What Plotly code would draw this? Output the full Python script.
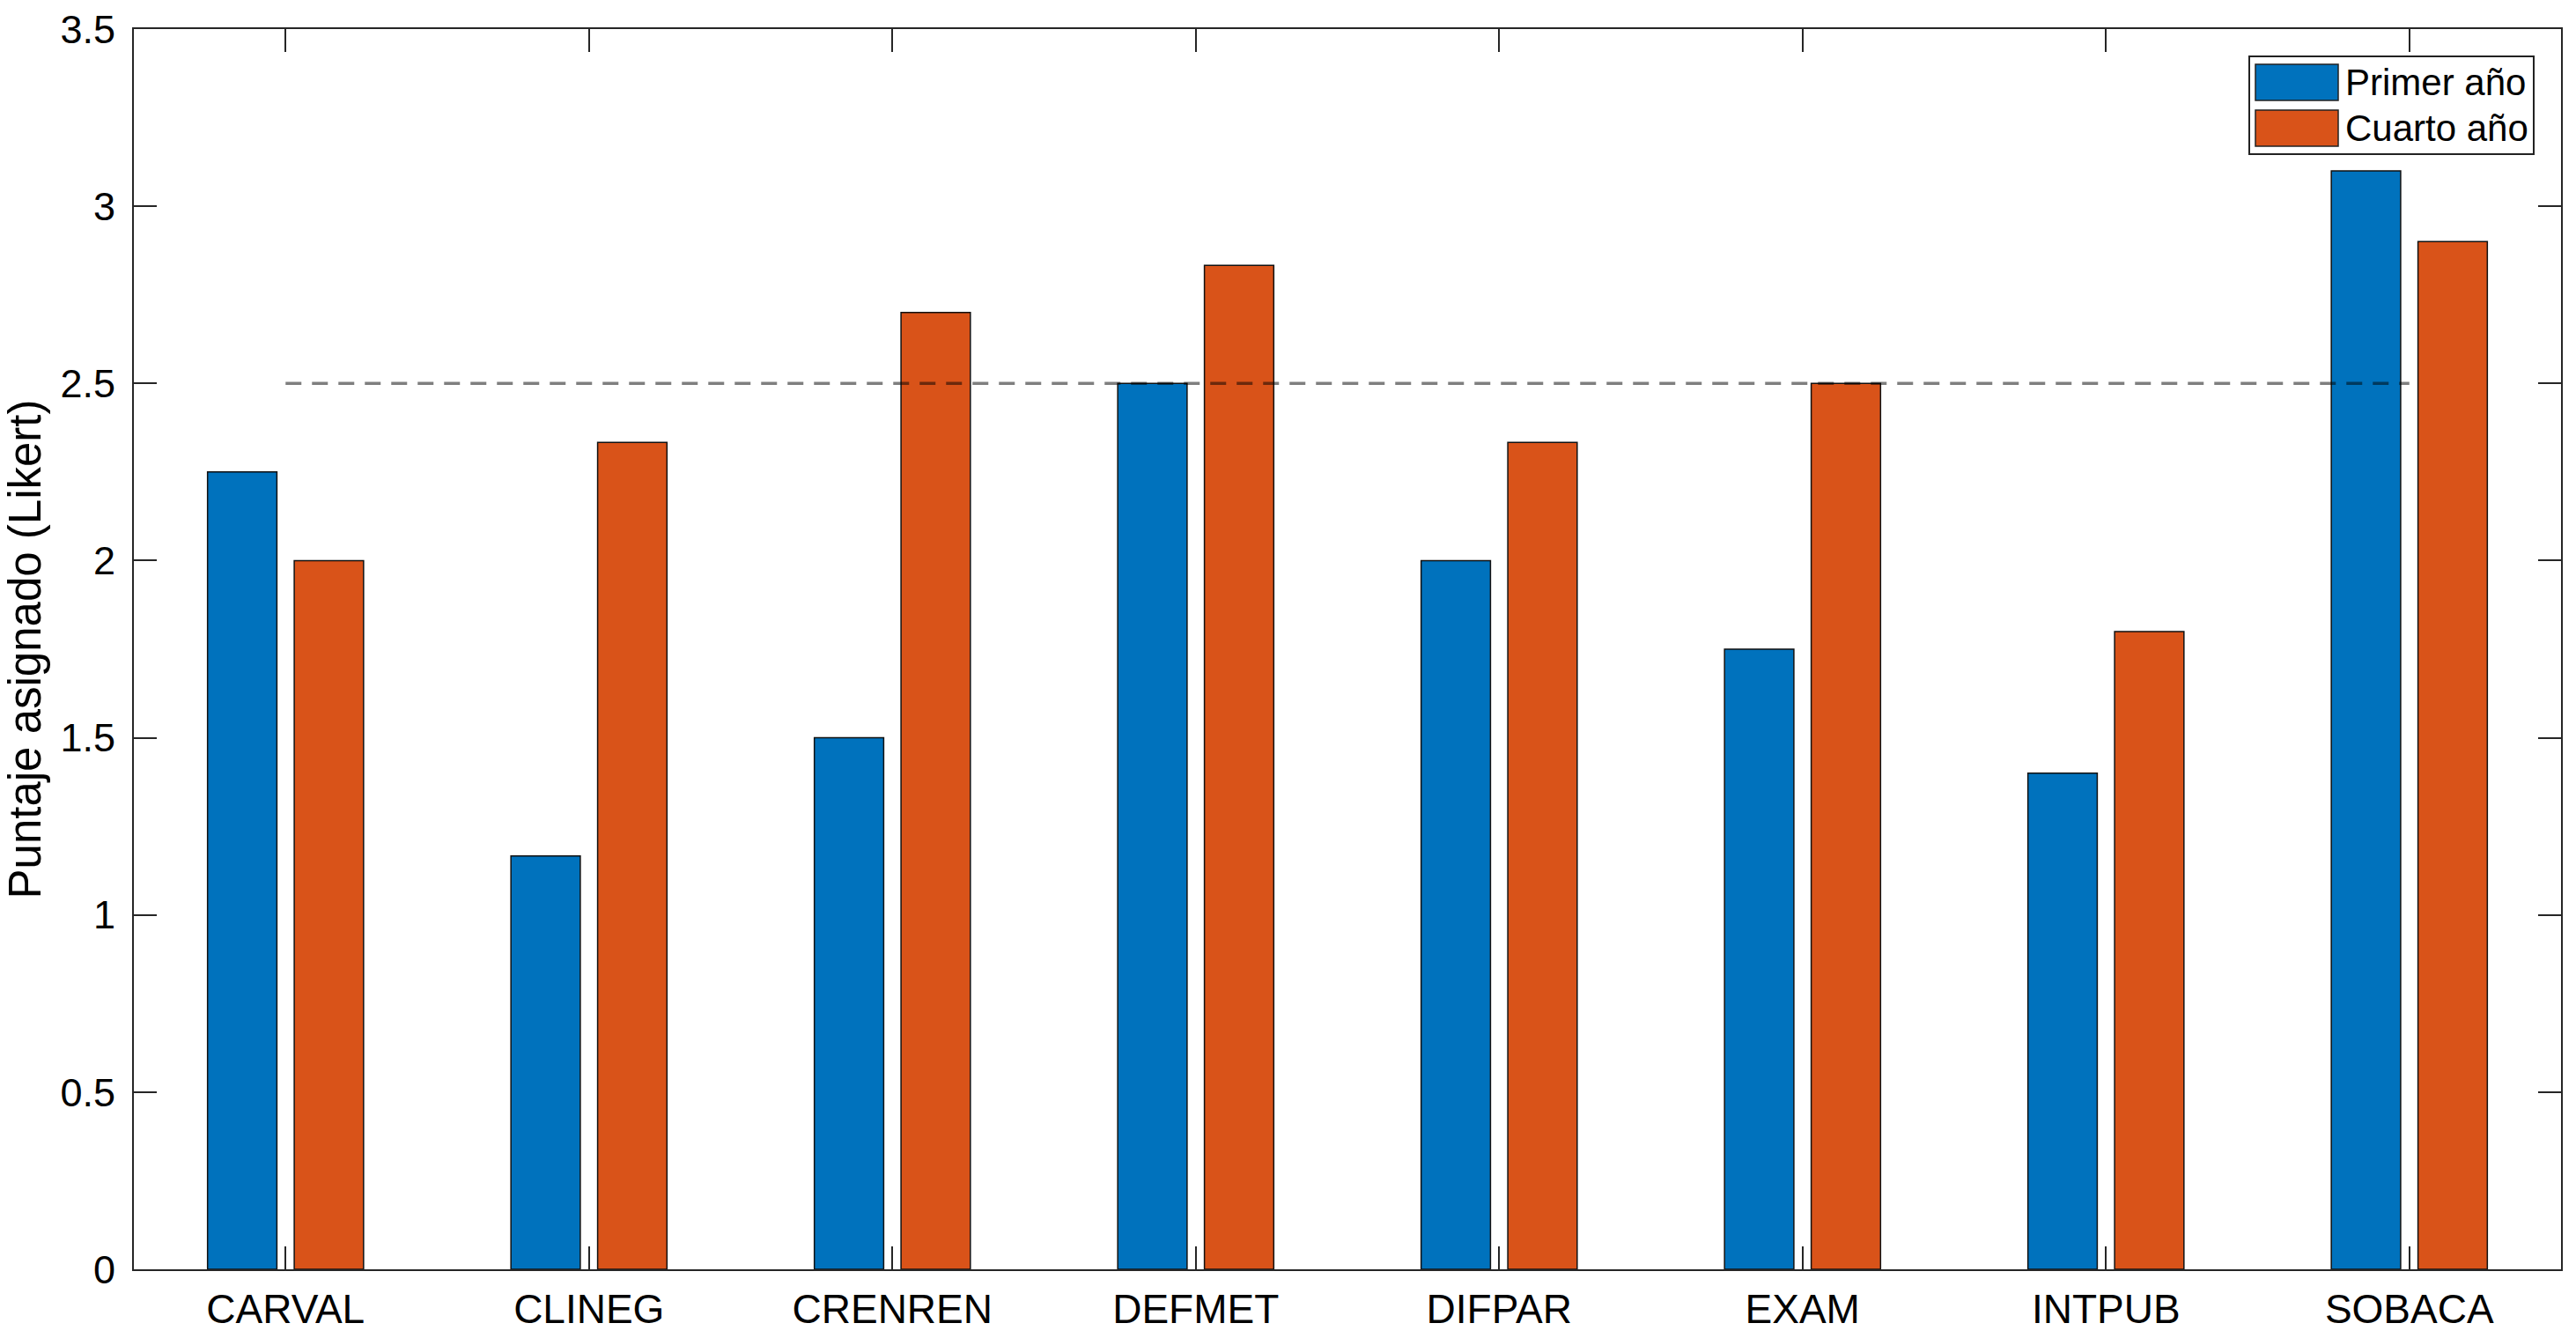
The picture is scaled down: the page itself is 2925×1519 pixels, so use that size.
import plotly.graph_objects as go

# ---- data ----
categories = ["CARVAL", "CLINEG", "CRENREN", "DEFMET", "DIFPAR", "EXAM", "INTPUB", "SOBACA"]
primer_anio = [2.25, 1.1667, 1.5, 2.5, 2.0, 1.75, 1.4, 3.1]
cuarto_anio = [2.0, 2.3333, 2.7, 2.8333, 2.3333, 2.5, 1.8, 2.9]
series_names = ["Primer año", "Cuarto año"]
threshold = 2.5
y_ticks = [0, 0.5, 1, 1.5, 2, 2.5, 3, 3.5]
y_tick_text = ["0", "0.5", "1", "1.5", "2", "2.5", "3", "3.5"]

# ---- style ----
W, H = 2925, 1519
# plot area in page pixels: x 152..2908, y 33..1441
ML, MR, MT, MB = 152, W - 2908, 33, H - 1441
BLUE = "#0072BD"
ORANGE = "#D95319"
FONT = "Liberation Sans, Arial, sans-serif"

fig = go.Figure()
fig.add_trace(go.Bar(x=categories, y=primer_anio, name=series_names[0],
                     marker=dict(color=BLUE, line=dict(color="#111111", width=1.5))))
fig.add_trace(go.Bar(x=categories, y=cuarto_anio, name=series_names[1],
                     marker=dict(color=ORANGE, line=dict(color="#111111", width=1.5))))
fig.add_trace(go.Scatter(x=[categories[0], categories[-1]], y=[threshold, threshold],
                         mode="lines", showlegend=False, hoverinfo="skip",
                         line=dict(color="rgba(0,0,0,0.5)", width=3.5, dash="18px,12px")))

# custom legend (MATLAB-like large swatches), positioned in page pixels -> paper
pw = W - ML - MR
ph = H - MT - MB
def px(x):
    return (x - ML) / pw
def py(y):
    return (H - MB - y) / ph

shapes = [dict(type="rect", xref="paper", yref="paper",
               x0=px(2554), x1=px(2877), y0=py(175), y1=py(64),
               line=dict(color="#222222", width=2), fillcolor="white", layer="above")]
swatches = [(73, 114, BLUE), (125, 166, ORANGE)]
annotations = []
for (y0, y1, col), name in zip(swatches, series_names):
    shapes.append(dict(type="rect", xref="paper", yref="paper",
                       x0=px(2561), x1=px(2655), y0=py(y1), y1=py(y0),
                       line=dict(color="#222222", width=1.5), fillcolor=col, layer="above"))
    annotations.append(dict(xref="paper", yref="paper", x=px(2661), y=py((y0 + y1) / 2),
                            text=name, showarrow=False, xanchor="left", yanchor="middle",
                            font=dict(family=FONT, size=42, color="black")))

fig.update_layout(
    width=W, height=H,
    margin=dict(l=ML, r=MR, t=MT, b=MB, pad=0, autoexpand=False),
    paper_bgcolor="white", plot_bgcolor="white",
    barmode="group", bargap=0.4286, bargroupgap=0.2,
    showlegend=False,
    font=dict(family=FONT, size=44, color="black"),
    shapes=shapes, annotations=annotations,
)
fig.update_xaxes(
    type="category", range=[-0.5, len(categories) - 0.5],
    showline=True, linecolor="#262626", linewidth=2, mirror="ticks",
    ticks="inside", ticklen=26, tickwidth=2, tickcolor="#262626",
    showgrid=False, zeroline=False, ticklabelstandoff=4, ticklabeloverflow="allow",
    tickfont=dict(family=FONT, size=46, color="black"),
)
fig.update_yaxes(
    range=[0, 3.5], tickmode="array", tickvals=y_ticks, ticktext=y_tick_text,
    showline=True, linecolor="#262626", linewidth=2, mirror="ticks",
    ticks="inside", ticklen=26, tickwidth=2, tickcolor="#262626",
    showgrid=False, zeroline=False, ticklabelstandoff=10, automargin=False,
    ticklabeloverflow="allow",
    tickfont=dict(family=FONT, size=45, color="black"),
    title=dict(text="Puntaje asignado (Likert)", font=dict(family=FONT, size=51, color="black"), standoff=32),
)

fig.write_html("out.html", config={"displayModeBar": False},
               post_script="document.body.style.margin='0';")
